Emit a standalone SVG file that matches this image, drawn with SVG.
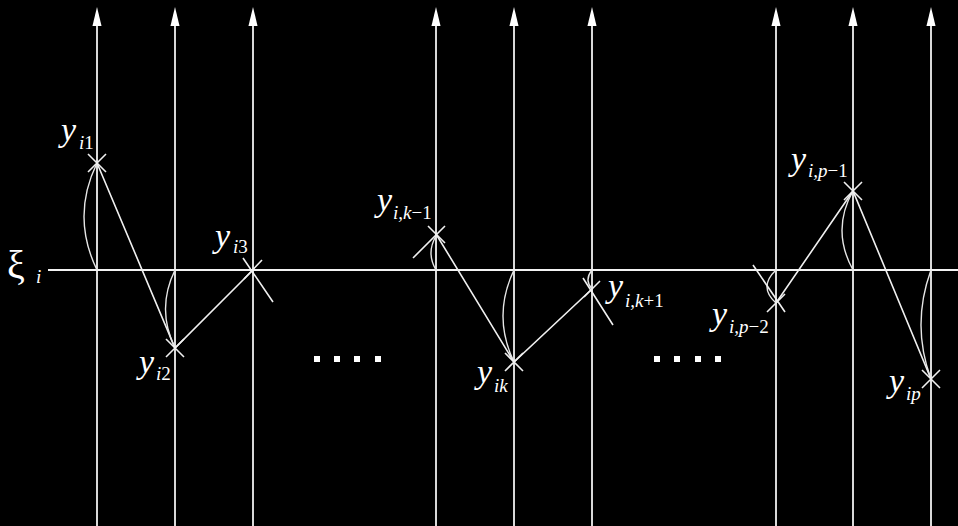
<svg xmlns="http://www.w3.org/2000/svg" width="958" height="526" viewBox="0 0 958 526">
<defs>
<style>
.axis{stroke:#d9d9d9;stroke-width:2;fill:none}
.base{stroke:#f2f2f2;stroke-width:2;fill:none}
.seg{stroke:#f0f0f0;stroke-width:1.6;fill:none}
.arc{stroke:#e6e6e6;stroke-width:1.4;fill:none}
.mk{stroke:#f0f0f0;stroke-width:1.6;fill:none}
.y{font-family:"Liberation Serif",serif;font-style:italic;font-size:34px;fill:#fff}
.s{font-family:"Liberation Serif",serif;font-style:italic;font-size:19px;fill:#fff}
.n{font-family:"Liberation Serif",serif;font-style:normal;font-size:19px;fill:#fff}
.xi{font-family:"Liberation Serif",serif;font-style:normal;font-size:40px;fill:#fff}
.dot{fill:#fff}
</style>
<marker id="ah" markerWidth="10" markerHeight="20" refX="5" refY="0" orient="0" markerUnits="userSpaceOnUse" viewBox="0 -1 10 22" overflow="visible">
<path d="M0,0 L5,-21 L10,0 Z" fill="#fff"/>
</marker>
</defs>
<rect width="958" height="526" fill="#000"/>
<g id="axes">
<path class="axis" d="M97,526 V26" marker-end="url(#ah)"/>
<path class="axis" d="M175,526 V26" marker-end="url(#ah)"/>
<path class="axis" d="M253,526 V26" marker-end="url(#ah)"/>
<path class="axis" d="M436,526 V26" marker-end="url(#ah)"/>
<path class="axis" d="M514,526 V26" marker-end="url(#ah)"/>
<path class="axis" d="M592,526 V26" marker-end="url(#ah)"/>
<path class="axis" d="M776,526 V26" marker-end="url(#ah)"/>
<path class="axis" d="M853,526 V26" marker-end="url(#ah)"/>
<path class="axis" d="M931,526 V26" marker-end="url(#ah)"/>
<path class="base" d="M48,270 H958"/>
</g>
<g id="connectors">
<path class="seg" d="M97,163 L175,348 L253,270"/>
<path class="seg" d="M436,234 L514,362 L592,289"/>
<path class="seg" d="M776,303 L853,191 L931,379"/>
<path class="arc" d="M97,270 Q71,216.5 97,163"/>
<path class="arc" d="M175,270 Q156,309 175,348"/>
<path class="arc" d="M436,270 Q426,253 436,236"/>
<path class="arc" d="M514,270 Q492,316 514,362"/>
<path class="arc" d="M592,270 Q584,280 592,289"/>
<path class="arc" d="M776,270 Q758,287 776,303"/>
<path class="arc" d="M853,270 Q831,230 853,191"/>
<path class="arc" d="M931,270 Q911,325 931,379"/>
</g>
<g id="xi">
<text class="xi" x="7" y="278">ξ</text>
<text class="s" x="36" y="283">i</text>
</g>
<g id="p1">
<path class="mk" d="M88,154 L106,172 M106,154 L88,172"/>
<text class="y" x="61" y="141">y</text><text class="s" x="79" y="149">i<tspan class="n">1</tspan></text>
</g>
<g id="p2">
<path class="mk" d="M166,339 L184,357 M184,339 L166,357"/>
<text class="y" x="139" y="373">y</text><text class="s" x="156" y="380">i<tspan class="n">2</tspan></text>
</g>
<g id="p3">
<path class="mk" d="M243,258 L273,302 M262,260 L244,279"/>
<text class="y" x="215" y="247">y</text><text class="s" x="233" y="253">i<tspan class="n">3</tspan></text>
</g>
<g id="pk1">
<path class="mk" d="M428,226 L445,243 M445,226 L413,258"/>
<text class="y" x="377" y="211">y</text><text class="s" x="393" y="219">i,k<tspan class="n">−1</tspan></text>
</g>
<g id="pk">
<path class="mk" d="M505,353 L523,371 M523,353 L505,371"/>
<text class="y" x="477" y="383">y</text><text class="s" x="494" y="392">ik</text>
</g>
<g id="pk2">
<path class="mk" d="M583,278 L613,325 M600,281 L584,297"/>
<text class="y" x="608" y="297">y</text><text class="s" x="625" y="307">i,k<tspan class="n">+1</tspan></text>
</g>
<g id="pp2">
<path class="mk" d="M753,265 L785,312 M785,294 L767,312"/>
<text class="y" x="712" y="325">y</text><text class="s" x="729" y="333">i,p<tspan class="n">−2</tspan></text>
</g>
<g id="pp1">
<path class="mk" d="M844,182 L862,200 M862,182 L844,200"/>
<text class="y" x="791" y="170">y</text><text class="s" x="808" y="177">i,p<tspan class="n">−1</tspan></text>
</g>
<g id="pp">
<path class="mk" d="M922,370 L940,388 M940,370 L922,388"/>
<text class="y" x="889" y="392">y</text><text class="s" x="906" y="400">ip</text>
</g>
<g id="dots1">
<rect class="dot" x="314" y="356" width="6" height="6"/>
<rect class="dot" x="334" y="356" width="6" height="6"/>
<rect class="dot" x="354" y="356" width="6" height="6"/>
<rect class="dot" x="375" y="356" width="6" height="6"/>
</g>
<g id="dots2">
<rect class="dot" x="654" y="356" width="6" height="6"/>
<rect class="dot" x="674" y="356" width="6" height="6"/>
<rect class="dot" x="695" y="356" width="6" height="6"/>
<rect class="dot" x="715" y="356" width="6" height="6"/>
</g>
</svg>
